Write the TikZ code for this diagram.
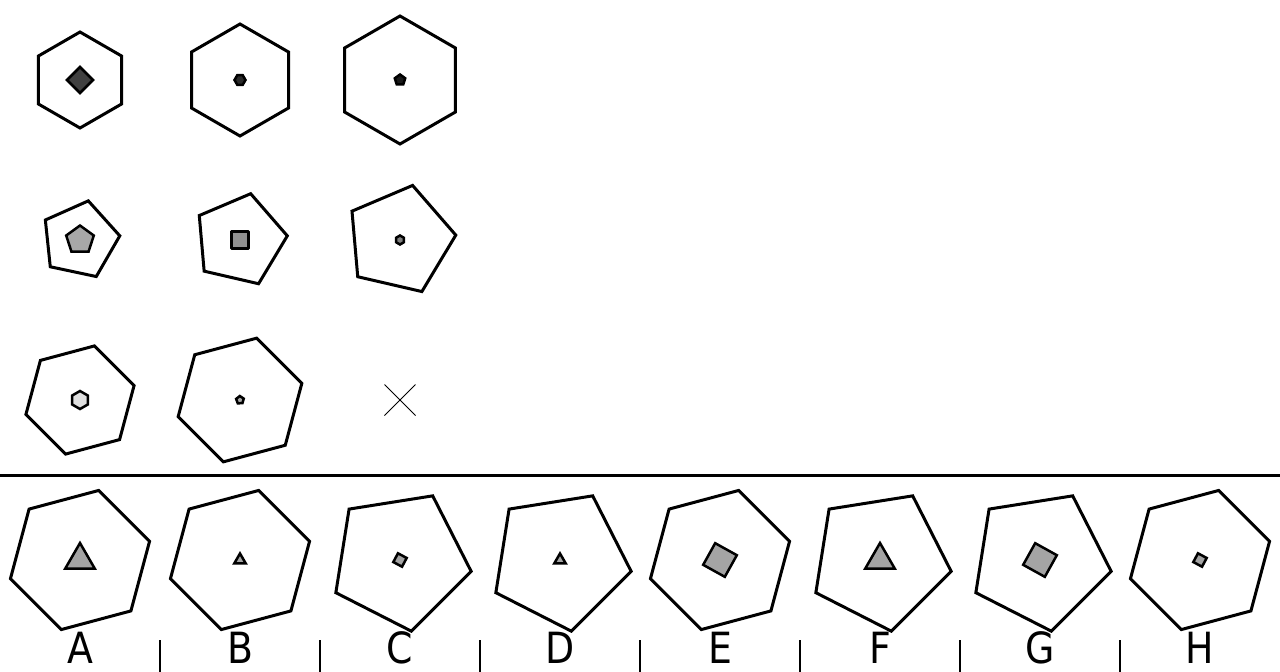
\documentclass[tikz,border=0pt]{standalone}
\usepackage{fontspec}
\newfontfamily\labfont[FakeStretch=0.88]{DejaVu Sans}
\definecolor{dk1}{HTML}{404040}
\definecolor{dk2}{HTML}{2A2A2A}
\definecolor{dk3}{HTML}{1A1A1A}
\definecolor{md1}{HTML}{A8A8A8}
\definecolor{md2}{HTML}{909090}
\definecolor{md3}{HTML}{808080}
\definecolor{lt1}{HTML}{E0E0E0}
\definecolor{gr}{HTML}{A4A4A4}
\tikzset{
  outer/.style={draw=black, line width=3pt, fill=white},
  inner/.style={draw=black, line width=2.5pt},
  sep/.style={draw=black, line width=2pt},
  lab/.style={anchor=base, inner sep=0pt, font=\labfont\fontsize{43}{43}\selectfont}
}
% \rpoly[options]{cx}{cy}{n}{R}{angle of first vertex, math degrees}
\newcommand{\rpoly}[6][]{%
  \pgfmathtruncatemacro\rpn{#4-1}%
  \draw[#1,shift={(#2,#3)}] ({-(#6)}:#5)
    \foreach \k in {1,...,\rpn} { -- ({-(#6)-360*\k/#4}:#5)} -- cycle;}
\begin{document}
\begin{tikzpicture}[x=1pt,y=-1pt]
\useasboundingbox[fill=white] (0,0) rectangle (1280,672);
% row 1
\rpoly[outer]{80}{80}{6}{48}{90}
\rpoly[inner,fill=dk1]{80}{80}{4}{13}{0}
\rpoly[outer]{240}{80}{6}{56}{90}
\rpoly[inner,fill=dk2]{240}{80}{6}{5.5}{0}
\rpoly[outer]{400}{80}{6}{64}{90}
\rpoly[inner,fill=dk3]{400}{80}{5}{5.5}{90}
% row 2
\rpoly[outer]{80}{240}{5}{40}{78}
\rpoly[inner,fill=md1]{80}{240}{5}{14.5}{90}
\rpoly[outer]{240}{240}{5}{47.5}{77}
\rpoly[inner,fill=md2,line join=round]{240}{240}{4}{12}{45}
\rpoly[outer]{400}{240}{5}{56}{77}
\rpoly[inner,fill=md3]{400}{240}{6}{4.5}{90}
% row 3
\rpoly[outer]{80}{400}{6}{56}{75}
\rpoly[inner,fill=lt1]{80}{400}{6}{9}{90}
\rpoly[outer]{240}{400}{6}{64}{75}
\rpoly[inner,fill=md1]{240}{400}{5}{4}{20}
\coordinate (xc) at (400,400);
\draw[line width=1pt] ([shift={(-15.5,-15.5)}]xc) -- ([shift={(15.5,15.5)}]xc);
\draw[line width=1pt] ([shift={(-15.5,15.5)}]xc) -- ([shift={(15.5,-15.5)}]xc);
% separator
\coordinate (sl) at (0,475.5);
\coordinate (sr) at (1280,475.5);
\draw[line width=2.5pt] (sl) -- (sr);
% answers
\rpoly[outer]{80}{560}{6}{72}{75}
\rpoly[inner,fill=gr]{80}{560}{3}{17}{90}
\rpoly[outer]{240}{560}{6}{72}{75}
\rpoly[inner,fill=gr]{240}{560}{3}{6.5}{90}
\rpoly[outer]{400}{560}{5}{72}{63}
\rpoly[inner,fill=gr]{400}{560}{4}{7}{107}
\rpoly[outer]{560}{560}{5}{72}{63}
\rpoly[inner,fill=gr]{560}{560}{3}{6.5}{90}
\rpoly[outer]{720}{560}{6}{72}{75}
\rpoly[inner,fill=gr]{720}{560}{4}{17.5}{106}
\rpoly[outer]{880}{560}{5}{72}{63}
\rpoly[inner,fill=gr]{880}{560}{3}{17}{90}
\rpoly[outer]{1040}{560}{5}{72}{63}
\rpoly[inner,fill=gr]{1040}{560}{4}{17.5}{106}
\rpoly[outer]{1200}{560}{6}{72}{75}
\rpoly[inner,fill=gr]{1200}{560}{4}{7}{107}
% labels
\foreach \L [count=\i from 0] in {A,B,C,D,E,F,G,H} {
  \node[lab] (lab\L) at (80+160*\i,663) {\L};
}
\foreach \i in {1,...,7} {
  \coordinate (st\i) at (160*\i,640);
  \coordinate (sb\i) at (160*\i,672);
  \draw[sep] (st\i) -- (sb\i);
}
\end{tikzpicture}
\end{document}
